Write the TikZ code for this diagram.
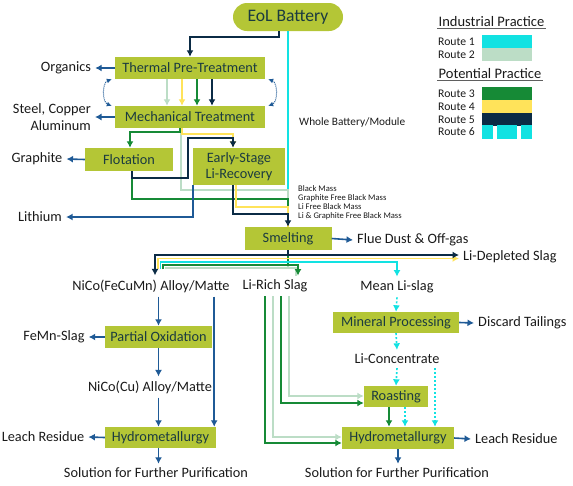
\documentclass[tikz,border=0pt]{standalone}
\usepackage{fontspec}
\setmainfont{Carlito}
\usepackage{tikz}
\usetikzlibrary{calc,arrows.meta}

\definecolor{boxgreen}{HTML}{B4C636}
\definecolor{boxtext}{HTML}{1B3B40}
\definecolor{labeltext}{HTML}{1A1A1A}
\definecolor{outblue}{HTML}{1F5A96}
\definecolor{rcyan}{HTML}{12E2E2}
\definecolor{rpale}{HTML}{BCDDC6}
\definecolor{rgreen}{HTML}{168A36}
\definecolor{ryellow}{HTML}{FFE35A}
\definecolor{rnavy}{HTML}{0B2B45}

\newcommand{\mainsize}{\fontsize{14.3}{16.5}\selectfont}
\newcommand{\eolsize}{\fontsize{17.6}{20}\selectfont}
\newcommand{\legsize}{\fontsize{11.7}{13}\selectfont}
\newcommand{\notesize}{\fontsize{11.3}{13}\selectfont}
\newcommand{\masssize}{\fontsize{8.6}{9}\selectfont}

\tikzstyle{block} = [rectangle, fill=boxgreen, text=boxtext, font=\mainsize, inner sep=2pt, align=center]
\tikzstyle{product} = [font=\mainsize, text=labeltext, inner sep=4pt, align=center]
\tikzstyle{arr} = [-{Latex[length=6.5pt,width=7pt]}]
\tikzstyle{outflow} = [draw=outblue, line width=1.6pt, arr]
\tikzstyle{r1} = [draw=rcyan, line width=1.8pt]
\tikzstyle{r2} = [draw=rpale, line width=1.8pt]
\tikzstyle{r3} = [draw=rgreen, line width=1.8pt]
\tikzstyle{r4} = [draw=ryellow, line width=1.8pt]
\tikzstyle{r5} = [draw=rnavy, line width=1.8pt]
\tikzstyle{r6} = [draw=rcyan, line width=1.6pt, dash pattern=on 2pt off 2pt, arr]
\tikzstyle{recirc} = [draw=outblue, line width=1pt, densely dotted, {Latex[length=5pt,width=5pt]}-{Latex[length=5pt,width=5pt]}]
\tikzstyle{legtitle} = [font=\fontsize{14.5}{16}\selectfont, text=labeltext, inner sep=1.5pt, anchor=west]
\tikzstyle{legtext} = [font=\legsize, text=labeltext, inner sep=1pt, anchor=west]

\begin{document}
\begin{tikzpicture}[x=1pt, y=-1pt]
\useasboundingbox (0,0) rectangle (573,485);

% process steps
\node [block, font=\eolsize, rounded corners=14pt, minimum width=110pt, minimum height=28pt] (eol) at (288,17) {EoL Battery};
\node [block, minimum width=150pt, minimum height=22pt] (thermal) at (190,68) {Thermal Pre-Treatment};
\node [block, minimum width=150pt, minimum height=22pt] (mech) at (190,117) {Mechanical Treatment};
\node [block, minimum width=88pt, minimum height=23pt] (flot) at (129,159.5) {Flotation};
\node [block, minimum width=92pt, minimum height=37pt] (early) at (239,166.5) {Early-Stage\\Li-Recovery};
\node [block, minimum width=87pt, minimum height=23pt] (smelt) at (288,238.5) {Smelting};
\node [block, minimum width=107pt, minimum height=22pt] (partox) at (158.5,337) {Partial Oxidation};
\node [block, minimum width=111pt, minimum height=21pt] (hydroL) at (160.5,437.5) {Hydrometallurgy};
\node [block, minimum width=126pt, minimum height=21pt] (minproc) at (396,322.5) {Mineral Processing};
\node [block, minimum width=64pt, minimum height=21pt] (roast) at (396,396.5) {Roasting};
\node [block, minimum width=112pt, minimum height=22pt] (hydroR) at (398,438) {Hydrometallurgy};

% products
\node [product] (organics) at (66,68) {Organics};
\node [product, align=right, anchor=east] (steel) at (95,117) {Steel, Copper\\Aluminum};
\node [product] (graphite) at (37,159) {Graphite};
\node [product] (lithium) at (40,217) {Lithium};
\node [product, anchor=west] (flue) at (353,240) {Flue Dust \& Off-gas};
\node [product, anchor=west] (lidep) at (459,257) {Li-Depleted Slag};
\node [product] (nicofe) at (151,286) {NiCo(FeCuMn) Alloy/Matte};
\node [product] (lirich) at (275,286) {Li-Rich Slag};
\node [product] (meanli) at (397,287) {Mean Li-slag};
\node [product] (femn) at (54,337) {FeMn-Slag};
\node [product] (nicocu) at (150,387) {NiCo(Cu) Alloy/Matte};
\node [product] (leachL) at (43,437) {Leach Residue};
\node [product] (solL) at (156,473) {Solution for Further Purification};
\node [product, anchor=west] (discard) at (474,323) {Discard Tailings};
\node [product] (liconc) at (397,359) {Li-Concentrate};
\node [product, anchor=west] (leachR) at (471,439) {Leach Residue};
\node [product] (solR) at (397,473) {Solution for Further Purification};

\node [font=\notesize, text=labeltext, inner sep=1pt, anchor=west] (whole) at (298,122) {Whole Battery/Module};
\node [font=\masssize, text=labeltext, inner sep=1pt, anchor=north west, align=left] (masslbl) at (297,184) {Black Mass\\Graphite Free Black Mass\\Li Free Black Mass\\Li \& Graphite Free Black Mass};

% legend
\node [legtitle] (indus) at (437,22) {Industrial Practice};
\draw [labeltext!70, line width=0.8pt] (indus.south west) -- (indus.south east);
\node [legtitle] (poten) at (437,74) {Potential Practice};
\draw [labeltext!70, line width=0.8pt] (poten.south west) -- (poten.south east);
\foreach \n/\c/\y in {1/rcyan/42, 2/rpale/55, 3/rgreen/94, 4/ryellow/107, 5/rnavy/120} {
  \node [legtext] (route\n) at (437,\y) {Route \n};
  \fill [\c] (482,\y-7) rectangle (532,\y+5.5);
}
\node [legtext] (route6) at (437,132) {Route 6};
\fill [rcyan] (482,125) rectangle (493,139);
\fill [rcyan] (497,125) rectangle (517,139);
\fill [rcyan] (521,125) rectangle (532,139);

% whole battery route
\draw [r1] (eol.south) -- (smelt.north);
\draw [r5, arr] ($(eol.south)+(-9,0)$) -- ++(0,6) -| (thermal.north);

% pre-treatment
\foreach \r/\dx in {r2/-23, r4/-8, r3/7, r5/22}
  \draw [\r, arr] ($(thermal.south)+(\dx,0)$) -- ($(mech.north)+(\dx,0)$);
\draw [recirc] ($(thermal.south west)+(-3,0)$) to [bend right=70] ($(mech.north west)+(-3,0)$);
\draw [recirc] ($(thermal.south east)+(3,0)$) to [bend left=70] ($(mech.north east)+(3,0)$);
\draw [outflow] (thermal.west) -- (organics.east);
\draw [outflow] (mech.west) -- (steel.east);

% black mass streams
\draw [r2] ($(mech.south)+(-9,0)$) |- ($(smelt.north)+(0,-37)$) -- (smelt.north);
\draw [r4, arr] ($(mech.south)+(-8,0)$) -- ++(0,6) -| ($(early.north)+(-6,0)$);
\draw [r3, arr] ($(mech.south)+(-10,0)$) -- ++(0,4) -| ($(flot.north)+(1,0)$);
\draw [r3] ($(flot.south)+(3,0)$) |- ($(smelt.north)+(0,-28)$) -- (smelt.north);
\draw [r5, arr] ($(flot.south)+(3,0)$) -- ++(0,7) -| ++(56,-40) -| ($(early.north)+(-6,0)$);
\draw [r4] ($(early.south)+(-3,0)$) |- ($(smelt.north)+(0,-20)$) -- (smelt.north);
\draw [r5, arr] ($(early.south)+(-6,0)$) |- ($(smelt.north)+(0,-13)$) -- (smelt.north);
\draw [outflow] (flot.west) -- (graphite.east);
\draw [outflow] (early.south west) |- (lithium.east);
\draw [outflow] (smelt.east) -- (flue.west);

% smelting products
\draw [r2] (smelt.south) -- ++(0,18);
\draw [r2] ($(nicofe.north)+(14.5,-6)$) |- ($(smelt.south)+(0,18)$) -| ($(lirich.north)+(21,0)$);
\draw [r3] (smelt.south) -- ++(0,15);
\draw [r3, arr] ($(nicofe.north)+(12,-6)$) |- ($(smelt.south)+(0,15)$) -| ($(lirich.north)+(23,0)$);
\draw [r1, arr] ($(nicofe.north)+(9.5,-6)$) |- ($(smelt.south)+(0,12)$) -| (meanli.north);
\draw [r4, arr] ($(nicofe.north)+(7,-6)$) |- ($(lidep.west)+(0,1.5)$);
\draw [r5, arr] (smelt.south) |- ($(lidep.west)+(0,-2)$);
\draw [r5, arr] (smelt.south) -- ++(0,5) -| ($(nicofe.north)+(4,0)$);

% alloy/matte treatment
\draw [outflow] (nicofe.south -| partox.north) -- (partox.north);
\draw [outflow] (partox.west) -- (femn.east);
\draw [outflow] (partox.south) -- (partox.south |- nicocu.north);
\draw [outflow] (partox.south |- nicocu.south) -- (partox.south |- hydroL.north);
\draw [outflow] ($(nicofe.south -| hydroL.east)+(-2,0)$) -- ($(hydroL.north east)+(-2,0)$);
\draw [outflow] (hydroL.west) -- (leachL.east);
\draw [outflow] (partox.south |- hydroL.south) -- (partox.south |- solL.north);

% slag treatment
\draw [r2, arr] ($(lirich.south)+(14,0)$) |- ($(roast.west)+(0,-0.5)$);
\draw [r3, arr] ($(lirich.south)+(6,0)$) |- ($(roast.west)+(0,6.5)$);
\draw [r2, arr] ($(lirich.south)+(-2,0)$) |- ($(hydroR.west)+(0,-1)$);
\draw [r3, arr] ($(lirich.south)+(-10,0)$) |- ($(hydroR.west)+(0,5)$);
\draw [r6] (meanli.south) -- (minproc.north);
\draw [outflow] (minproc.east) -- (discard.west);
\draw [r6] (minproc.south) -- (liconc.north);
\draw [r6] (liconc.south) -- (roast.north);
\draw [r6] ($(roast.south)+(9,0)$) -- ($(hydroR.north)+(7,0)$);
\draw [r3, arr] ($(roast.south)+(-7,0)$) -- ($(hydroR.north)+(-9,0)$);
\draw [r6] ($(hydroR.north |- liconc.south)+(37,0)$) -- ($(hydroR.north)+(37,0)$);
\draw [outflow] (hydroR.east) -- (leachR.west);
\draw [outflow] (hydroR.south) -- (hydroR.south |- solR.north);

\end{tikzpicture}
\end{document}
